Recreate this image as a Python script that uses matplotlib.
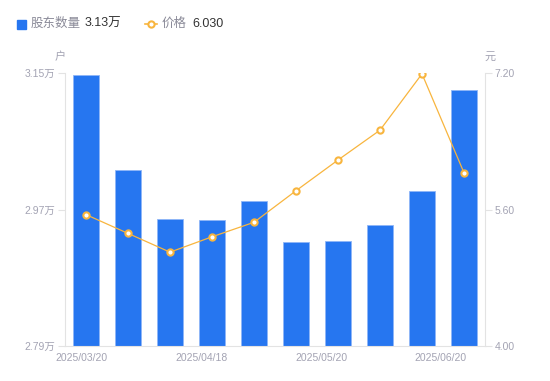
import matplotlib.pyplot as plt
from matplotlib.lines import Line2D
import numpy as np

plt.rcParams['font.family'] = ['Liberation Sans', 'Noto Sans CJK SC', 'DejaVu Sans']

holders = [3.147, 3.022, 2.957, 2.956, 2.981, 2.927, 2.929, 2.950, 2.994, 3.128]
price = [5.54, 5.32, 5.10, 5.28, 5.45, 5.82, 6.18, 6.53, 7.19, 6.03]
date_labels = ['2025/03/20', '2025/04/18', '2025/05/20', '2025/06/20']
date_pos = [-0.1, 2.75, 5.6, 8.45]
left_ticks = [2.79, 2.97, 3.15]
right_ticks = [4.00, 5.60, 7.20]

blue = '#2676f0'
orange = '#f8b53e'
gray = '#a3a3b3'
axis_gray = '#e3e3e3'

fig = plt.figure(figsize=(5.5, 3.81), dpi=100)
ax = fig.add_axes([65 / 550, 35 / 381, 420 / 550, 273 / 381])
x = np.arange(len(holders))
ax.bar(x, holders, width=0.6, color=blue, edgecolor='#8fb6f7', linewidth=0.6, zorder=2)
ax.set_xlim(-0.5, len(holders) - 0.5)
ax.set_ylim(left_ticks[0], left_ticks[-1])
ax.set_yticks(left_ticks)
ax.set_yticklabels([f'{v:.2f}万' for v in left_ticks])
ax.set_xticks(date_pos)
ax.set_xticklabels(date_labels)
ax.tick_params(axis='x', length=0, labelsize=7.5, colors=gray, pad=5)
ax.tick_params(axis='y', length=5, width=0.8, color=axis_gray, labelsize=7.5, labelcolor=gray, pad=2)
for s in ['top', 'right']:
    ax.spines[s].set_visible(False)
ax.spines['left'].set_color(axis_gray)
ax.spines['bottom'].set_color(axis_gray)

ax2 = ax.twinx()
ax2.plot(x, price, color=orange, linewidth=0.9, marker='o', markersize=4.5,
         markerfacecolor='white', markeredgecolor=orange, markeredgewidth=1.5, zorder=3)
ax2.set_ylim(right_ticks[0], right_ticks[-1])
ax2.set_yticks(right_ticks)
ax2.set_yticklabels([f'{v:.2f}' for v in right_ticks])
ax2.tick_params(axis='y', length=5, width=0.8, color=axis_gray, labelsize=7.5, labelcolor=gray, pad=2)
for s in ['top', 'left', 'bottom']:
    ax2.spines[s].set_visible(False)
ax2.spines['right'].set_color(axis_gray)

fig.text(60 / 550, 1 - 57 / 381, '户', fontsize=8, color=gray, ha='center', va='center')
fig.text(490 / 550, 1 - 57 / 381, '元', fontsize=8, color=gray, ha='center', va='center')

# legend row
fig.patches.append(plt.Rectangle((17 / 550, 1 - 29 / 381), 9 / 550, 9 / 381,
                                 transform=fig.transFigure, color=blue, figure=fig))
fig.text(31 / 550, 1 - 24 / 381, '股东数量', fontsize=9, color='#8a8a98', va='center')
fig.text(85 / 550, 1 - 24 / 381, f'{holders[-1]:.2f}万', fontsize=9, color='#333333', va='center')
fig.lines.append(Line2D([145 / 550, 157 / 550], [1 - 24 / 381] * 2, transform=fig.transFigure,
                        color=orange, linewidth=1.2))
fig.lines.append(Line2D([151 / 550], [1 - 24 / 381], transform=fig.transFigure,
                        color=orange, marker='o', markersize=4.5, markerfacecolor='white',
                        markeredgewidth=1.5))
fig.text(162 / 550, 1 - 24 / 381, '价格', fontsize=9, color='#8a8a98', va='center')
fig.text(192 / 550, 1 - 24 / 381, f'{price[-1]:.3f}', fontsize=9, color='#333333', va='center')

fig.savefig('out.png', dpi=100)
